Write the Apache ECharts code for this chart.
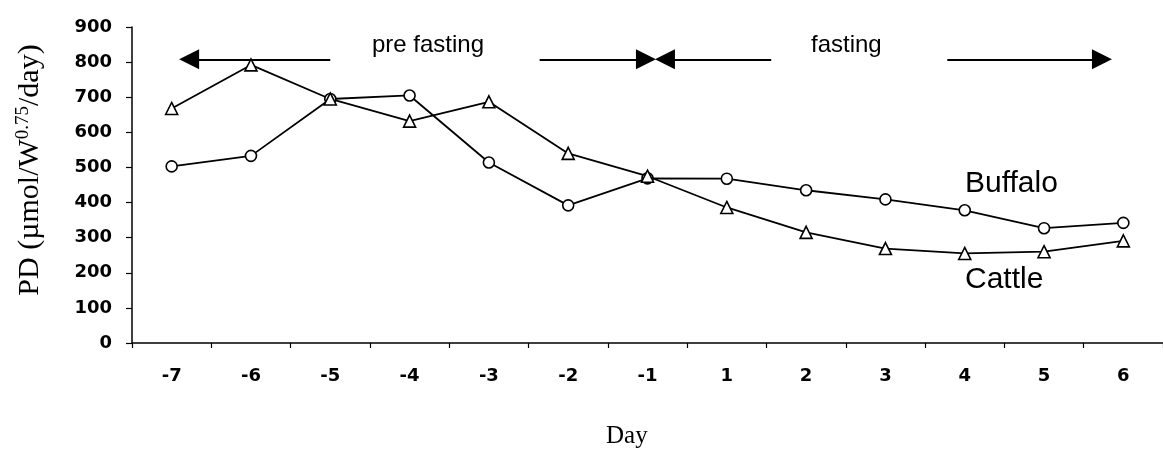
<!DOCTYPE html>
<html>
<head>
<meta charset="utf-8">
<script src="https://cdn.jsdelivr.net/npm/echarts@6/dist/echarts.min.js"></script>
<style>
  html, body { margin: 0; padding: 0; background: #fff; }
  #chart { width: 1163px; height: 454px; }
</style>
</head>
<body>
<div id="chart"></div>
<script type="application/javascript">
const days = ['-7', '-6', '-5', '-4', '-3', '-2', '-1', '1', '2', '3', '4', '5', '6'];
const buffalo = [503, 533, 695, 705, 514, 392, 469, 468, 435, 409, 378, 327, 342];
const cattle = [668, 792, 695, 632, 687, 540, 475, 386, 315, 269, 255, 260, 291];
const yTicks = [0, 100, 200, 300, 400, 500, 600, 700, 800, 900];

// period arrows, in category-index units on a hidden value axis
const arrowLevel = 808;
const arrows = [
  [2.0, 0.22],
  [4.64, 5.98],
  [7.56, 6.22],
  [9.78, 11.73]
];

const chart = echarts.init(document.getElementById('chart'));

function lineSerie(name, data, symbol, size) {
  return {
    name,
    type: 'line',
    data,
    symbol,
    symbolSize: size,
    showAllSymbol: true,
    lineStyle: { color: '#000', width: 1.8 },
    itemStyle: { color: '#fff', borderColor: '#000', borderWidth: 1.6 },
    emphasis: { disabled: true },
    z: 3
  };
}

const option = {
  animation: false,
  backgroundColor: '#fff',
  grid: { left: 132, right: -12, top: 27, bottom: 111 },
  xAxis: [{
    type: 'category',
    data: days,
    axisLine: { lineStyle: { color: '#000', width: 1.5 } },
    axisTick: { show: true, interval: 0, length: 5, lineStyle: { color: '#000', width: 1.2 } },
    axisLabel: {
      margin: 24,
      interval: 0,
      color: '#000',
      fontFamily: 'DejaVu Sans',
      fontWeight: 'bold',
      fontSize: 18
    },
    splitLine: { show: false }
  }, {
    type: 'value',
    min: -0.5,
    max: 12.5,
    show: false
  }],
  yAxis: {
    type: 'value',
    min: 0,
    max: 900,
    interval: 100,
    axisLine: { show: true, onZero: false, lineStyle: { color: '#000', width: 1.5 } },
    axisTick: { show: true, length: 6, lineStyle: { color: '#000', width: 1.2 } },
    axisLabel: {
      margin: 20,
      color: '#000',
      fontFamily: 'DejaVu Sans',
      fontWeight: 'bold',
      fontSize: 18,
      formatter: v => (yTicks.includes(v) ? String(v) : '')
    },
    splitLine: { show: false }
  },
  graphic: [
    {
      type: 'text', x: 30, y: 170, rotation: Math.PI / 2,
      style: {
        text: 'PD (µmol/W{sup|0.75}/day)',
        fontFamily: 'Liberation Serif', fontSize: 30, fill: '#000',
        align: 'center', verticalAlign: 'middle',
        rich: {
          sup: { fontFamily: 'Liberation Serif', fontSize: 19, fill: '#000', verticalAlign: 'top', padding: [0, 0, 13, 0] }
        }
      }
    },
    { type: 'text', left: 372, top: 33, style: { text: 'pre fasting', font: '24px Liberation Sans', fill: '#000' } },
    { type: 'text', left: 811, top: 33, style: { text: 'fasting', font: '24px Liberation Sans', fill: '#000' } },
    { type: 'text', left: 965, top: 169, style: { text: 'Buffalo', font: '30px Liberation Sans', fill: '#000' } },
    { type: 'text', left: 965, top: 265, style: { text: 'Cattle', font: '30px Liberation Sans', fill: '#000' } },
    { type: 'text', left: 606, top: 424, style: { text: 'Day', font: '25px Liberation Serif', fill: '#000' } }
  ],
  series: [
    lineSerie('Buffalo', buffalo, 'circle', 11),
    lineSerie('Cattle', cattle, 'triangle', 12),
    {
      type: 'lines',
      coordinateSystem: 'cartesian2d',
      xAxisIndex: 1,
      yAxisIndex: 0,
      symbol: ['none', 'triangle'],
      symbolSize: 20,
      lineStyle: { color: '#000', width: 2, opacity: 1 },
      data: arrows.map(a => ({ coords: [[a[0], arrowLevel], [a[1], arrowLevel]] })),
      silent: true,
      z: 4
    }
  ]
};

chart.setOption(option);
</script>
</body>
</html>
